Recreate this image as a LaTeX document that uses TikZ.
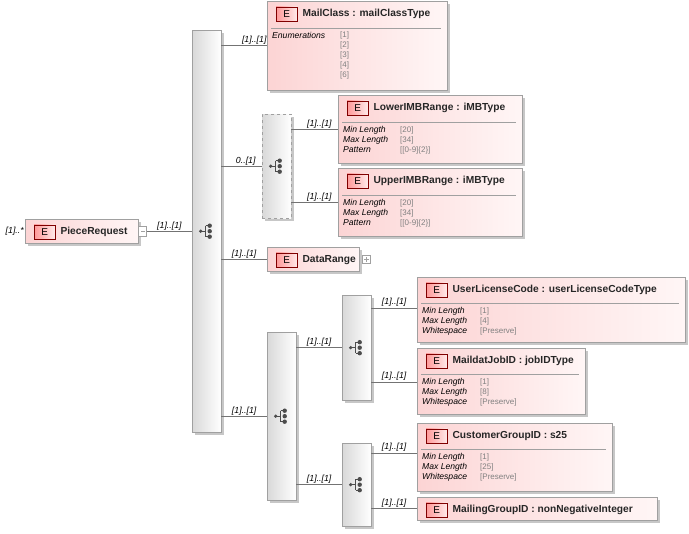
\documentclass[tikz,border=0pt]{standalone}
\usepackage{fontspec}
\setmainfont{Liberation Sans}
\usetikzlibrary{positioning}

\definecolor{elemL}{RGB}{252,212,212}
\definecolor{elemR}{RGB}{255,246,246}
\definecolor{edge}{RGB}{160,160,160}

\tikzset{
  elem/.style={draw=edge, left color=elemL, right color=elemR, inner sep=0pt},
  ebadge/.style={draw=red!50!black, left color=red!40, right color=red!8, minimum width=21pt, minimum height=14pt, inner sep=0pt, font=\fontsize{10}{10}\selectfont},
  etitle/.style={inner sep=0pt, font=\fontsize{10.2}{12}\selectfont\bfseries, text=black!85},
  seqbox/.style={draw=edge, left color=black!15, right color=white, inner sep=0pt},
  shadow/.style={fill=black!22},
  card/.style={inner sep=1pt, font=\fontsize{8.8}{9}\selectfont\itshape},
  facet/.style={inner sep=0pt, font=\fontsize{8.6}{8.6}\selectfont\itshape, anchor=west},
  fval/.style={inner sep=0pt, font=\fontsize{8}{8}\selectfont, text=black!50, anchor=west},
  conn/.style={draw=black!55, line width=0.6pt}
}

% element box: name, x, y, w, h, title
\newcommand*{\xelem}[6]{%
  \fill[shadow] (#2+3,#3+3) rectangle ++(#4,#5);
  \node[elem, minimum width=#4pt, minimum height=#5pt, anchor=north west] (#1) at (#2,#3) {};
  \node[ebadge, anchor=west] (#1-e) at (#2+9,#3+13) {E};
  \node[etitle, anchor=west] at ([xshift=5pt]#1-e.east) {#6};}

% sequence compositor: name, x, y, w, h, extra style
\newcommand*{\xseq}[6]{%
  \fill[shadow] (#2+3,#3+3) rectangle ++(#4,#5);
  \node[seqbox, #6, minimum width=#4pt, minimum height=#5pt, anchor=north west] (#1) at (#2,#3) {};
  \begin{scope}[shift={(#1.center)}, x=1pt, y=-1pt]
    \fill[black!70] (-6,0) circle (1.8);
    \draw[black!70, line width=0.8pt] (-6,0) -- (-1,0) (-1,-5.5) -- (-1,5.5) (-1,-5.5) -- (2,-5.5) (-1,5.5) -- (2,5.5);
    \foreach \d in {-5.5,0,5.5} \fill[black!70] (3,\d) circle (2.2);
  \end{scope}}

\begin{document}
\begin{tikzpicture}[x=1pt, y=-1pt]
\useasboundingbox (0,0) rectangle (689,534);

% root
\xelem{root}{25}{219}{113}{24}{PieceRequest}
\node[draw=edge, fill=white, minimum width=8pt, minimum height=10pt, inner sep=0pt, anchor=west] (rootm) at (root.east) {};
\draw[edge] ([xshift=2pt]rootm.center) -- ++(-4pt,0);
\node[card, anchor=east] at (root.west) {[1]..* };

% main sequence
\xseq{seqA}{192}{30}{29}{402}{}
\draw[conn] (rootm.east) -- (seqA.west |- rootm.east) node[card, midway, above] {[1]..[1]};

% MailClass
\xelem{mclass}{267}{1}{180}{89}{MailClass : mailClassType}
\draw[edge] (271,28) -- (441,28);
\node[facet] at (272,35) {Enumerations};
\foreach \v [count=\i] in {1,2,3,4,6}
  \node[fval] at (340,25+\i*10) {[\v]};
\draw[conn] (seqA.east |- mclass.west) -- (mclass.west) node[card, pos=0.72, above] {[1]..[1]};

% choice of IMB range
\xseq{chIMB}{262}{114}{29}{104}{dashed}
\draw[conn] (seqA.east |- chIMB.west) -- (chIMB.west) node[card, pos=0.6, above] {0..[1]};

\xelem{lowIMB}{338}{95}{184}{68}{LowerIMBRange : iMBType}
\draw[edge] (342,122) -- (516,122);
\foreach \l/\v [count=\i] in {Min Length/[20],Max Length/[34],Pattern/{[[0-9]\{2\}]}}{
  \node[facet] at (343,120+\i*10) {\l};
  \node[fval] at (400,120+\i*10) {\v};}
\draw[conn] (chIMB.east |- lowIMB.west) -- (lowIMB.west) node[card, pos=0.6, above] {[1]..[1]};

\xelem{upIMB}{338}{168}{184}{68}{UpperIMBRange : iMBType}
\draw[edge] (342,195) -- (516,195);
\foreach \l/\v [count=\i] in {Min Length/[20],Max Length/[34],Pattern/{[[0-9]\{2\}]}}{
  \node[facet] at (343,193+\i*10) {\l};
  \node[fval] at (400,193+\i*10) {\v};}
\draw[conn] (chIMB.east |- upIMB.west) -- (upIMB.west) node[card, pos=0.6, above] {[1]..[1]};

% DataRange
\xelem{drange}{267}{247}{92}{24}{DataRange}
\node[draw=edge, fill=white, minimum size=8pt, inner sep=0pt, anchor=west] (drangep) at ([xshift=3pt]drange.east) {};
\draw[edge] ([xshift=-2.5pt]drangep.center) -- ++(5pt,0) ([yshift=-2.5pt]drangep.center) -- ++(0,5pt);
\draw[conn] (seqA.east |- drange.west) -- (drange.west) node[card, midway, above] {[1]..[1]};

% nested sequences
\xseq{seqB}{267}{332}{29}{168}{}
\draw[conn] (seqA.east |- seqB.west) -- (seqB.west) node[card, midway, above] {[1]..[1]};
\xseq{seqC}{342}{295}{29}{105}{}
\draw[conn] (seqB.east |- seqC.west) -- (seqC.west) node[card, midway, above] {[1]..[1]};
\xseq{seqD}{342}{443}{29}{83}{}
\draw[conn] (seqB.east |- seqD.west) -- (seqD.west) node[card, midway, above] {[1]..[1]};

\xelem{ulc}{417}{277}{268}{65}{UserLicenseCode : userLicenseCodeType}
\draw[edge] (421,303) -- (679,303);
\foreach \l/\v [count=\i] in {Min Length/[1],Max Length/[4],Whitespace/[Preserve]}{
  \node[facet] at (422,301+\i*10) {\l};
  \node[fval] at (480,301+\i*10) {\v};}
\draw[conn] (seqC.east |- 0,308) -- (ulc.west |- 0,308) node[card, midway, above] {[1]..[1]};

\xelem{mjob}{417}{348}{168}{66}{MaildatJobID : jobIDType}
\draw[edge] (421,374) -- (579,374);
\foreach \l/\v [count=\i] in {Min Length/[1],Max Length/[8],Whitespace/[Preserve]}{
  \node[facet] at (422,372+\i*10) {\l};
  \node[fval] at (480,372+\i*10) {\v};}
\draw[conn] (seqC.east |- 0,382) -- (mjob.west |- 0,382) node[card, midway, above] {[1]..[1]};

\xelem{cgid}{417}{423}{195}{68}{CustomerGroupID : s25}
\draw[edge] (421,449) -- (606,449);
\foreach \l/\v [count=\i] in {Min Length/[1],Max Length/[25],Whitespace/[Preserve]}{
  \node[facet] at (422,447+\i*10) {\l};
  \node[fval] at (480,447+\i*10) {\v};}
\draw[conn] (seqD.east |- 0,453) -- (cgid.west |- 0,453) node[card, midway, above] {[1]..[1]};

\xelem{mgid}{417}{497}{240}{23}{MailingGroupID : nonNegativeInteger}
\draw[conn] (seqD.east |- mgid.west) -- (mgid.west) node[card, midway, above] {[1]..[1]};
\end{tikzpicture}
\end{document}
